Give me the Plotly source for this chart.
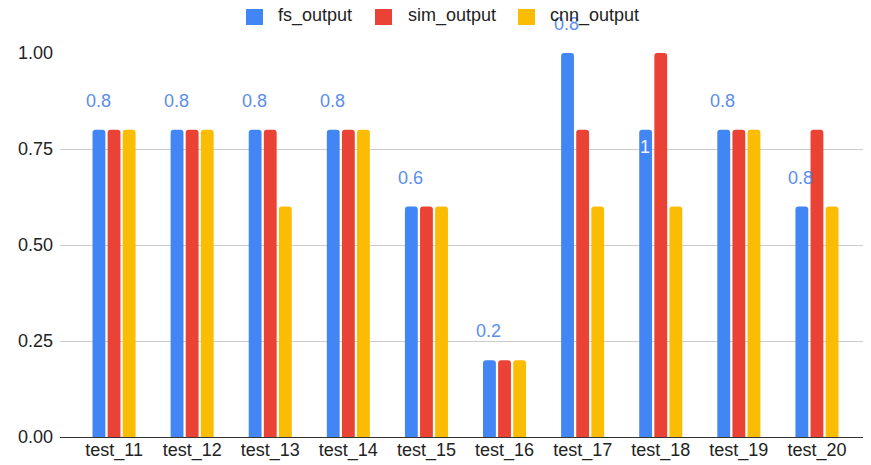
import plotly.graph_objects as go

categories = ["test_11", "test_12", "test_13", "test_14", "test_15",
              "test_16", "test_17", "test_18", "test_19", "test_20"]
fs_output = [0.8, 0.8, 0.8, 0.8, 0.6, 0.2, 1.0, 0.8, 0.8, 0.6]
sim_output = [0.8, 0.8, 0.8, 0.8, 0.6, 0.2, 0.8, 1.0, 0.8, 0.8]
cnn_output = [0.8, 0.8, 0.6, 0.8, 0.6, 0.2, 0.6, 0.6, 0.8, 0.6]
label_text = ["0.8", "0.8", "0.8", "0.8", "0.6", "0.2", "0.8", "1", "0.8", "0.8"]
y_ticks = [0, 0.25, 0.5, 0.75, 1.0]
y_tick_text = ["0.00", "0.25", "0.50", "0.75", "1.00"]
series_names = ["fs_output", "sim_output", "cnn_output"]
series_colors = ["#4285F4", "#EA4335", "#FBBC04"]

FONT = "Liberation Sans, Arial, sans-serif"
OFF = 8  # page body margin
W, H = 871 - OFF, 465 - OFF
# plot area in window pixels: x 60..869, y 53..437
L, R, T, B = 60 - OFF, 871 - 869, 53 - OFF, 465 - 437
pw = W - L - R
ph = H - T - B

fig = go.Figure()
for name, vals, col in zip(series_names, [fs_output, sim_output, cnn_output], series_colors):
    fig.add_trace(go.Bar(
        x=categories, y=vals, name=name,
        marker=dict(color=col, cornerradius=3, line=dict(width=0)),
        hoverinfo="x+y", showlegend=False,
    ))

# data labels (placed above the first series, as in the reference)
for i, (c, v, t) in enumerate(zip(categories, fs_output, label_text)):
    inside = (t == "1")
    fig.add_annotation(
        x=c, y=v, text=t, showarrow=False,
        xshift=-16, yshift=(-17 if inside else 29),
        yanchor="middle",
        font=dict(family=FONT, size=18,
                  color=("#eef3fd" if inside else "#5B8DEF")),
    )

# custom legend (squares + labels), positions given in window pixels
def px2x(px):
    return (px - OFF - L) / pw

def py2y(py):
    return (H - B - (py - OFF)) / ph

legend_sq_x = [246, 375, 518]
legend_txt_x = [276, 406, 548]
for name, col, sx, tx in zip(series_names, series_colors, legend_sq_x, legend_txt_x):
    fig.add_shape(type="rect", xref="paper", yref="paper",
                  x0=px2x(sx), x1=px2x(sx + 17), y0=py2y(25), y1=py2y(9),
                  fillcolor=col, line=dict(width=0), layer="above")
    fig.add_annotation(xref="paper", yref="paper", x=px2x(tx), y=py2y(16),
                       xanchor="left", yanchor="middle", text=name, showarrow=False,
                       font=dict(family=FONT, size=18, color="#222222"))

fig.update_layout(
    width=W, height=H,
    margin=dict(l=L, r=R, t=T, b=B, autoexpand=False),
    paper_bgcolor="white", plot_bgcolor="white",
    barmode="group", bargap=0.42, bargroupgap=0.15,
    font=dict(family=FONT, size=18, color="#222222"),
    showlegend=False,
)

fig.update_xaxes(
    type="category",
    range=[-0.5 - 15 / 78.1, 9.5 + 13 / 78.1],
    showgrid=False, ticks="", showline=False, automargin=False,
    tickfont=dict(family=FONT, size=18, color="#222222"),
)
fig.update_yaxes(
    range=[0, 1.0], tickvals=y_ticks, ticktext=y_tick_text,
    showgrid=True, gridcolor="#cccccc", gridwidth=1,
    zeroline=True, zerolinecolor="#333333", zerolinewidth=1,
    showline=False, ticks="", ticklabelstandoff=6, automargin=False,
    tickfont=dict(family=FONT, size=18, color="#222222"),
)

fig.write_html("out.html")
